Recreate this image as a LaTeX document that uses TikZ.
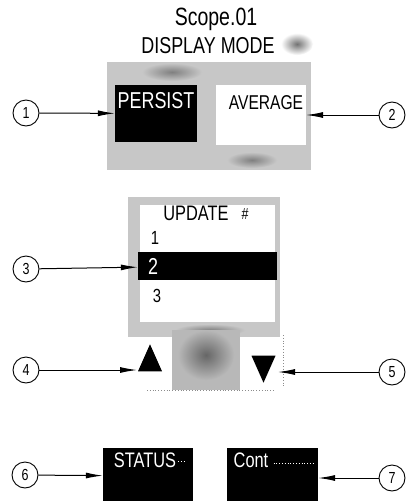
\documentclass[tikz,border=0pt]{standalone}
\usepackage{fontspec}
\setmainfont{Liberation Sans}
\newfontfamily\lcd[FakeStretch=0.78]{Liberation Sans}
\usetikzlibrary{arrows.meta,shapes.geometric}
\begin{document}
\begin{tikzpicture}[x=1pt,y=-1pt,
  num/.style={circle, draw, line width=0.9pt, minimum size=26pt, inner sep=0pt, font=\lcd\fontsize{16}{16}\selectfont},
  arr/.style={-{Latex[length=17pt,width=6pt]}, line width=1pt},
  blackbox/.style={fill=black, draw=none, inner sep=0pt},
  whitebox/.style={fill=white, draw=none, inner sep=0pt},
  lcdw/.style={text=white, inner sep=0pt, font=\lcd\fontsize{#1}{#1}\selectfont},
  lcdb/.style={text=black, inner sep=0pt, font=\lcd\fontsize{#1}{#1}\selectfont},
  halftone/.style={fill=black!22, draw=none},
  blob/.style={ellipse, draw=none, inner sep=0pt, inner color=black!50, outer color=black!22},
  tri/.style={isosceles triangle, isosceles triangle apex angle=50, fill=black, draw=none, inner sep=0pt, minimum height=27pt, minimum width=24pt, isosceles triangle stretches}
]
\useasboundingbox (0,0) rectangle (407,501);
\fill[white] (0,0) rectangle (407,501);

% ---- title
\node[lcdb=25] (scope) at (216,19) {Scope.01};
\node[lcdb=23] (dmode) at (208,46) {DISPLAY MODE};
\node[blob, minimum width=32pt, minimum height=22pt, inner color=black!55, outer color=white] (dpatch) at (297,44) {};

% ---- display mode buttons
\fill[halftone] (107,62) rectangle (311,170);
\node[blob, minimum width=60pt, minimum height=18pt] (b1) at (172,72) {};
\node[blob, minimum width=50pt, minimum height=16pt] (b2) at (252,160) {};
\node[blackbox, minimum width=82pt, minimum height=57pt] (persist) at (156,113.5) {};
\node[lcdw=23] (persistt) at (156,101) {PERSIST};
\node[whitebox, minimum width=90pt, minimum height=60pt] (avg) at (261,115) {};
\node[lcdb=20] (avgt) at (266,103) {AVERAGE};

\node[num] (c1) at (26,113) {1};
\node[num] (c2) at (392,115) {2};
\draw[arr] (c1) -- (persist);
\draw[arr] (c2) -- (avg);

% ---- update list
\fill[halftone] (128,197) rectangle (280,337);
\fill[white] (140,205) rectangle (275,322);
\node[blob, minimum width=70pt, minimum height=12pt] (b3) at (210,330) {};
\node[lcdb=21] (updt) at (196,213) {UPDATE};
\node[lcdb=16] (hash) at (245,214) {\#};
\node[lcdb=19] (n1) at (155,238) {1};
\node[blackbox, minimum width=139pt, minimum height=28pt] (bar) at (207.5,266) {};
\node[lcdw=23] (n2) at (153,266) {2};
\node[lcdb=19] (n3) at (157,296) {3};

\node[num] (c3) at (26,269) {3};
\draw[arr] (c3) -- (bar);

% ---- arrows up/down
\fill[black!28] (172,330) rectangle (240,390);
\node[blob, minimum width=56pt, minimum height=50pt, inner color=black!60, outer color=black!28] (b4) at (206,355) {};
\draw[black!45, dotted, line width=0.8pt] (147,390) -- (275,390);
\draw[black!45, dotted, line width=0.8pt] (283,335) -- (283,388);
\node[tri, shape border rotate=90] (up) at (150,363.5) {};
\node[tri, shape border rotate=270] (down) at (263.5,363.5) {};
\coordinate (t4) at (137,370);
\coordinate (t5) at (278,372);

\node[num] (c4) at (26,370) {4};
\node[num] (c5) at (392,372) {5};
\draw[arr] (c4) -- (t4);
\draw[arr] (c5) -- (t5);

% ---- soft keys
\node[blackbox, minimum width=90pt, minimum height=56pt] (status) at (148,476) {};
\node[lcdw=21] (statust) at (145,460) {STATUS};
\draw[white, dotted, line width=0.8pt] (statust.east) ++(2,1) -- ++(7,0);
\node[blackbox, minimum width=91pt, minimum height=56pt] (cont) at (272.5,476) {};
\node[lcdw=21] (contt) at (251,460) {Cont};
\draw[white, dotted, line width=0.8pt] (contt.east) ++(5,3) -- ++(40,0);

\node[num] (c6) at (25,475) {6};
\node[num] (c7) at (392,478) {7};
\draw[arr] (c6) -- (status);
\draw[arr] (c7) -- (c7 -| cont.east);
\end{tikzpicture}
\end{document}
